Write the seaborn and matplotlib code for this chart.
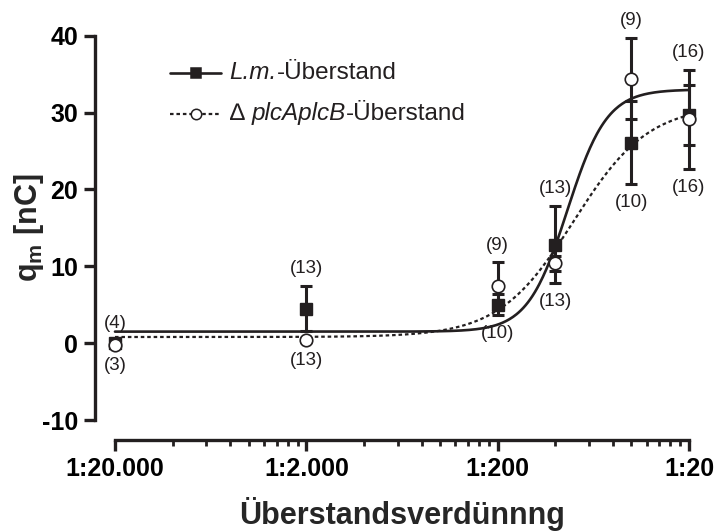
import numpy as np
import matplotlib
matplotlib.use("Agg")
import matplotlib.pyplot as plt
from matplotlib.lines import Line2D
from matplotlib.offsetbox import (AnchoredOffsetbox, DrawingArea, HPacker,
                                  TextArea, VPacker)
from matplotlib.ticker import FixedLocator, NullFormatter
import seaborn as sns

# Supernatant dilutions (1:N) and measured charge q_m [nC], mean and SEM
dilution = [20000, 2000, 200, 100, 40, 20]

lm_mean = [0.0, 4.5, 5.0, 12.8, 26.1, 29.7]
lm_sem = [0.3, 2.9, 1.4, 5.0, 5.4, 3.9]
lm_n = [4, 13, 10, 13, 10, 16]

mut_mean = [-0.2, 0.4, 7.5, 10.4, 34.4, 29.1]
mut_sem = [0.4, 0.3, 3.0, 1.0, 5.3, 6.5]
mut_n = [3, 13, 9, 13, 9, 16]

# Sigmoidal dose-response fits: bottom, top, logEC50, Hill slope
lm_fit = [1.5, 33.0, -1.937, 4.19]
mut_fit = [0.8, 31.0, -1.903, 2.22]

tick_dilutions = [20000, 2000, 200, 20]
tick_labels = ["1:20.000", "1:2.000", "1:200", "1:20"]
y_ticks = [-10, 0, 10, 20, 30, 40]

# Legend entries as (prefix, italic part, suffix)
lm_label = ("", "L.m.", "-Überstand")
mut_label = ("∆ ", "plcAplcB", "-Überstand")

INK = "#231f20"
SOLID = dict(linewidth=1.9, linestyle="-")
DOTTED = dict(linewidth=1.6, linestyle=(0, (1.6, 1.3)))

sns.set_style("ticks")
plt.rcParams["font.family"] = ["Liberation Sans", "DejaVu Sans"]
plt.rcParams["axes.unicode_minus"] = False
plt.rcParams["mathtext.fontset"] = "custom"
plt.rcParams["mathtext.rm"] = "Liberation Sans"
plt.rcParams["mathtext.bf"] = "Liberation Sans:bold"

fig = plt.figure(figsize=(7.25, 5.31), dpi=100)
ax = fig.add_axes([0.1586, 0.2090, 0.7917, 0.7238])

x = 1.0 / np.array(dilution, dtype=float)


def logistic(conc, params):
    bottom, top, logec50, hill = params
    return bottom + (top - bottom) / (1 + 10 ** ((logec50 - np.log10(conc)) * hill))


grid = np.geomspace(x.min(), x.max(), 500)
sns.lineplot(x=grid, y=logistic(grid, lm_fit), ax=ax, color=INK, zorder=3,
             clip_on=False, **SOLID)
sns.lineplot(x=grid, y=logistic(grid, mut_fit), ax=ax, color=INK, zorder=3,
             clip_on=False, **DOTTED)

# Error bars
for mean, sem in ((lm_mean, lm_sem), (mut_mean, mut_sem)):
    eb = ax.errorbar(x, mean, yerr=sem, fmt="none", ecolor=INK, elinewidth=2.2,
                     capsize=4, capthick=2.2, zorder=2)
    for art in list(eb.lines[1]) + list(eb.lines[2]):
        art.set_clip_on(False)

ax.plot(x, lm_mean, linestyle="none", marker="s", markersize=9, color=INK,
        markeredgecolor=INK, zorder=4, clip_on=False)
ax.plot(x, mut_mean, linestyle="none", marker="o", markersize=9,
        markerfacecolor="white", markeredgecolor=INK, markeredgewidth=1.2,
        zorder=5, clip_on=False)

# Group sizes above and below each dilution
for xi, m1, s1, n1, m2, s2, n2 in zip(x, lm_mean, lm_sem, lm_n,
                                      mut_mean, mut_sem, mut_n):
    top1, top2 = m1 + s1, m2 + s2
    n_above, n_below = (n1, n2) if top1 >= top2 else (n2, n1)
    top = max(top1, top2)
    bottom = min(m1 - s1, m2 - s2)
    ax.annotate(f"({n_above})", (xi, top), xytext=(0, 12.5),
                textcoords="offset points", ha="center", va="center",
                fontsize=13.5, color=INK, annotation_clip=False)
    ax.annotate(f"({n_below})", (xi, bottom), xytext=(0, -13),
                textcoords="offset points", ha="center", va="center",
                fontsize=13.5, color=INK, annotation_clip=False)

# Axes
ax.set_xscale("log")
ax.set_xlim(x.min(), x.max())
ax.set_ylim(-10, 40)
major = [1.0 / d for d in tick_dilutions]
minor = [m * k for m in major[:-1] for k in range(2, 10)]
ax.xaxis.set_major_locator(FixedLocator(major))
ax.xaxis.set_minor_locator(FixedLocator(minor))
ax.xaxis.set_minor_formatter(NullFormatter())
ax.set_xticklabels(tick_labels)
ax.set_yticks(y_ticks)

for side in ("top", "right"):
    ax.spines[side].set_visible(False)
for side in ("left", "bottom"):
    ax.spines[side].set_linewidth(2.4)
    ax.spines[side].set_color(INK)
    ax.spines[side].set_position(("outward", 14.4))
    ax.spines[side].set_capstyle("projecting")

ax.tick_params(axis="both", which="major", length=8, width=2.4, color=INK,
               labelsize=18, labelcolor="black", pad=4)
ax.tick_params(axis="x", which="minor", length=4, width=2.0, color=INK)
for lab in ax.get_xticklabels() + ax.get_yticklabels():
    lab.set_fontweight("bold")

ax.set_xlabel("Überstandsverdünnng", fontsize=22, fontweight="bold")
ax.set_ylabel(r"q$_\mathbf{m}$ [nC]", fontsize=22, fontweight="bold")
ax.xaxis.set_label_coords(0.5, -0.2)
ax.yaxis.set_label_coords(-0.12, 0.5)


# Legend built from packed boxes so the italic strain names keep tight spacing
def legend_row(style, marker, face, label):
    w, h = 37.0, 14.0
    da = DrawingArea(w, h, 0, 0)
    da.add_artist(Line2D([0, w], [h / 2, h / 2], color=INK, **style))
    da.add_artist(Line2D([w / 2], [h / 2], marker=marker, markersize=7.5,
                         markerfacecolor=face, markeredgecolor=INK,
                         markeredgewidth=1.1, linestyle="none"))
    prefix, italic, suffix = label
    parts = []
    if prefix:
        parts.append(TextArea(prefix, textprops=dict(fontsize=17.5, color=INK)))
    parts.append(TextArea(italic, textprops=dict(fontsize=17.5, color=INK,
                                                 fontstyle="italic")))
    parts.append(TextArea(suffix, textprops=dict(fontsize=17.5, color=INK)))
    text = HPacker(children=parts, align="baseline", pad=0, sep=0)
    return HPacker(children=[da, text], align="center", pad=0, sep=6)


rows = VPacker(children=[legend_row(SOLID, "s", INK, lm_label),
                         legend_row(DOTTED, "o", "white", mut_label)],
               align="left", pad=0, sep=13)
box = AnchoredOffsetbox(loc="upper left", child=rows, pad=0, borderpad=0,
                        frameon=False, bbox_to_anchor=(170 / 725, 1 - 61 / 531),
                        bbox_transform=fig.transFigure)
ax.add_artist(box)

fig.savefig("out.png", dpi=100)
